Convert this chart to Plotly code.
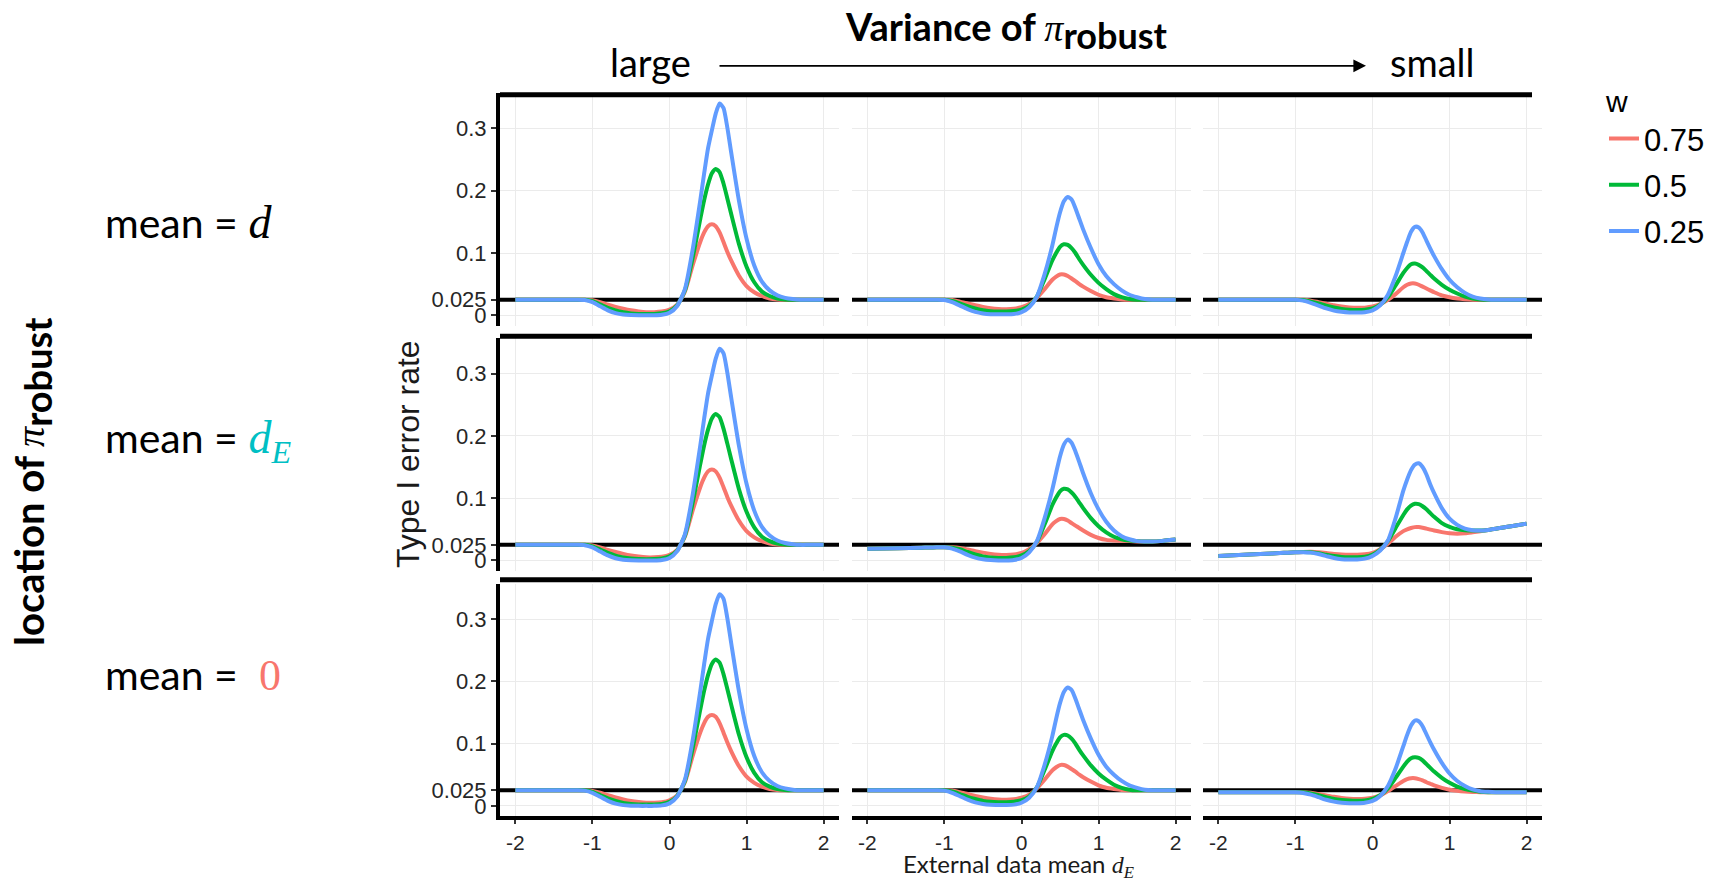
import plotly.graph_objects as go

W, H = 1714, 886

# ---------------- data ----------------
X = [-2.0, -1.6, -1.3, -1.2, -1.1, -1.0, -0.9, -0.8, -0.7, -0.6, -0.5, -0.4, -0.3, -0.2, -0.1,
     0.0, 0.1, 0.2, 0.3, 0.4, 0.45, 0.5, 0.55, 0.6, 0.65, 0.7, 0.75, 0.8,
     0.9, 1.0, 1.1, 1.2, 1.3, 1.4, 1.5, 1.6, 1.7, 1.8, 2.0]

W_LEVELS = ["0.75", "0.5", "0.25"]
COLORS = ["#F8766D", "#00BA38", "#619CFF"]
ALPHA = 0.025

# column 1 (large variance) - same in all rows
COL1_W075 = [.025, .025, .025, .025, .025, .024, .021, .017, .0135, .0105, .008, .0062, .005, .005, .006,
             .009, .017, .038, .08, .118, .133, .143, .146, .143, .133, .118, .102, .088,
             .064, .047, .037, .031, .027, .0255, .025, .025, .025, .025, .025]
COL1_W050 = [.025, .025, .025, .025, .025, .0225, .0175, .012, .0078, .0048, .003, .0022, .002, .0022, .0032,
             .0065, .016, .04, .092, .155, .185, .21, .228, .235, .23, .212, .188, .163,
             .115, .078, .053, .038, .031, .027, .0255, .025, .025, .025, .025]
COL1_W025 = [.025, .025, .025, .025, .0245, .021, .0145, .008, .0035, .0012, .0003, 0, 0, 0, .0008,
             .004, .015, .042, .105, .185, .228, .268, .297, .324, .34, .333, .302, .262,
             .185, .123, .08, .054, .04, .032, .028, .026, .025, .025, .025]

# column 2 (rows 1 and 3)
C2_W075 = [.025, .025, .025, .025, .025, .025, .0245, .022, .019, .016, .0135, .0115, .0102, .0098, .0105,
           .013, .018, .028, .042, .057, .062, .0655, .0655, .063, .059, .055, .05, .046,
           .039, .033, .029, .027, .0255, .025, .025, .025, .025, .025, .025]
C2_W050 = [.025, .025, .025, .025, .025, .025, .023, .019, .0145, .011, .008, .0065, .006, .006, .0068,
           .009, .015, .03, .058, .088, .1, .11, .114, .113, .108, .1, .09, .081,
           .065, .052, .042, .034, .029, .026, .025, .025, .025, .025, .025]
C2_W025 = [.025, .025, .025, .025, .025, .0245, .021, .0155, .01, .0055, .003, .0018, .0015, .0015, .002,
           .005, .013, .03, .066, .112, .14, .165, .183, .19, .186, .172, .155, .138,
           .108, .082, .063, .05, .04, .033, .029, .026, .025, .025, .025]

# row 2, column 2
R2C2_W075 = [.0187, .0197, .0205, .0208, .021, .021, .021, .02, .0175, .0148, .0125, .0105, .0092, .0088, .0095,
             .012, .018, .028, .042, .058, .063, .0665, .0665, .064, .06, .056, .052, .048,
             .041, .036, .033, .032, .0315, .031, .0305, .0303, .0303, .031, .0335]
R2C2_W050 = [.0187, .0197, .0205, .0208, .021, .021, .0205, .018, .0135, .0095, .0065, .0048, .004, .004, .005,
             .008, .015, .03, .058, .089, .101, .111, .115, .114, .109, .102, .093, .084,
             .068, .055, .045, .038, .034, .032, .031, .0305, .0305, .031, .0335]
R2C2_W025 = [.0187, .0197, .0205, .0208, .021, .021, .019, .0145, .009, .0045, .0018, .0005, 0, 0, .0008,
             .004, .013, .031, .068, .114, .141, .167, .186, .194, .189, .175, .158, .14,
             .108, .082, .062, .048, .039, .034, .031, .0305, .0305, .031, .0335]

# row 1, column 3
R1C3_W075 = [.025, .025, .025, .025, .025, .025, .025, .0235, .021, .0185, .016, .014, .0127, .012, .0123,
             .014, .018, .025, .034, .045, .049, .051, .051, .049, .046, .043, .04, .037,
             .032, .029, .027, .0258, .025, .025, .025, .025, .025, .025, .025]
R1C3_W050 = [.025, .025, .025, .025, .025, .025, .0245, .022, .019, .0155, .0125, .0103, .009, .0086, .009,
             .011, .017, .029, .048, .068, .076, .082, .083, .081, .077, .071, .065, .059,
             .049, .041, .035, .03, .027, .0255, .025, .025, .025, .025, .025]
R1C3_W025 = [.025, .025, .025, .025, .025, .025, .0235, .02, .0155, .011, .0075, .0055, .0045, .0043, .005,
             .008, .016, .033, .063, .1, .118, .134, .142, .141, .133, .12, .107, .095,
             .074, .057, .045, .036, .03, .027, .0255, .025, .025, .025, .025]

# row 2, column 3
R2C3_W075 = [.007, .0095, .0113, .0119, .0125, .013, .0136, .0138, .0132, .012, .0105, .0095, .009, .009, .0098,
             .012, .018, .027, .038, .047, .05, .052, .0535, .0535, .0525, .051, .0495, .048,
             .0455, .0435, .0428, .0435, .0452, .047, .049, .051, .053, .055, .059]
R2C3_W050 = [.007, .0095, .0113, .0119, .0125, .013, .0135, .013, .0115, .009, .007, .0055, .005, .005, .006,
             .0095, .017, .031, .052, .073, .082, .088, .091, .0905, .087, .082, .076, .07,
             .06, .054, .05, .0485, .048, .048, .049, .051, .053, .055, .059]
R2C3_W025 = [.007, .0095, .0113, .0119, .0125, .013, .0133, .0125, .0102, .007, .0038, .002, .0015, .0015, .0028,
             .0072, .016, .032, .068, .112, .13, .145, .154, .156, .15, .138, .122, .108,
             .084, .067, .057, .051, .0485, .048, .049, .051, .053, .055, .059]

# row 3, column 3
R3C3_W075 = [.022, .022, .022, .022, .022, .022, .022, .021, .019, .0168, .0145, .0128, .0115, .011, .0113,
             .013, .017, .024, .032, .04, .043, .0444, .0444, .043, .041, .038, .0355, .033,
             .029, .026, .0242, .023, .0223, .022, .022, .022, .022, .022, .022]
R3C3_W050 = [.022, .022, .022, .022, .022, .022, .0218, .02, .017, .014, .0112, .0095, .0085, .0082, .0088,
             .011, .017, .028, .045, .063, .071, .0765, .078, .077, .073, .067, .061, .055,
             .045, .037, .031, .027, .0245, .0228, .022, .022, .022, .022, .022]
R3C3_W025 = [.022, .022, .022, .022, .022, .022, .0208, .018, .014, .0098, .0068, .005, .0043, .0043, .005,
             .008, .016, .032, .06, .096, .114, .129, .137, .136, .128, .115, .102, .09,
             .069, .052, .04, .032, .0265, .0235, .0225, .022, .022, .022, .022]

PANELS = [
    [(COL1_W075, COL1_W050, COL1_W025), (C2_W075, C2_W050, C2_W025), (R1C3_W075, R1C3_W050, R1C3_W025)],
    [(COL1_W075, COL1_W050, COL1_W025), (R2C2_W075, R2C2_W050, R2C2_W025), (R2C3_W075, R2C3_W050, R2C3_W025)],
    [(COL1_W075, COL1_W050, COL1_W025), (C2_W075, C2_W050, C2_W025), (R3C3_W075, R3C3_W050, R3C3_W025)],
]

X_TICKS = [-2, -1, 0, 1, 2]
X_TICKTEXT = ["-2", "-1", "0", "1", "2"]
Y_TICKS = [0, 0.025, 0.1, 0.2, 0.3]
Y_TICKTEXT = ["0", "0.025", "0.1", "0.2", "0.3"]
XRANGE = [-2.2, 2.2]
YRANGE = [-0.017, 0.357]

# ---------------- layout geometry (pixels) ----------------
COL_LEFT = [500, 852, 1203]
COL_W = 339
ROW_TOP = [93.2, 338.9, 584.9]
ROW_H = 233.4

ARIAL = "Liberation Sans, Arial, sans-serif"
TICK_FONT = dict(family=ARIAL, size=22, color="#262626")
XTICK_FONT = dict(family=ARIAL, size=21, color="#262626")
GRID = "#EBEBEB"

fig = go.Figure()
layout = {}

for r in range(3):
    for c in range(3):
        k = r * 3 + c + 1
        xa = "x" if k == 1 else f"x{k}"
        ya = "y" if k == 1 else f"y{k}"
        xd = [COL_LEFT[c] / W, (COL_LEFT[c] + COL_W) / W]
        yd = [1 - (ROW_TOP[r] + ROW_H) / H, 1 - ROW_TOP[r] / H]
        bottom = (r == 2)
        layout["xaxis" if k == 1 else f"xaxis{k}"] = dict(
            domain=xd, anchor=ya, range=XRANGE, tickvals=X_TICKS, ticktext=X_TICKTEXT,
            showticklabels=bottom, ticks="outside" if bottom else "", ticklen=4, tickwidth=2,
            tickcolor="#333333", tickfont=XTICK_FONT,
            showgrid=True, gridcolor=GRID, gridwidth=1, zeroline=False,
            showline=bottom, linecolor="black", linewidth=4, fixedrange=True,
        )
        left = (c == 0)
        layout["yaxis" if k == 1 else f"yaxis{k}"] = dict(
            domain=yd, anchor=xa, range=YRANGE, tickvals=Y_TICKS, ticktext=Y_TICKTEXT,
            showticklabels=left, ticks="outside" if left else "", ticklen=5, tickwidth=2,
            tickcolor="#333333", tickfont=TICK_FONT,
            showgrid=True, gridcolor=GRID, gridwidth=1, zeroline=False,
            showline=left, linecolor="black", linewidth=4, fixedrange=True,
        )
        # reference line at the nominal level
        fig.add_trace(go.Scatter(x=XRANGE, y=[ALPHA, ALPHA], mode="lines",
                                 line=dict(color="black", width=4), hoverinfo="skip",
                                 showlegend=False, xaxis=xa, yaxis=ya))
        for i, ys in enumerate(PANELS[r][c]):
            fig.add_trace(go.Scatter(
                x=X, y=ys, mode="lines", name=W_LEVELS[i],
                line=dict(color=COLORS[i], width=4, shape="spline", smoothing=0.6),
                legendgroup=W_LEVELS[i], showlegend=(k == 1),
                xaxis=xa, yaxis=ya))

# ---------------- annotations ----------------
def P(xp, yp):
    return xp / W, 1 - yp / H

annots = []

def ann(text, xp, yp, size, family, color="black", xanchor="center", yanchor="middle", angle=0):
    x, y = P(xp, yp)
    annots.append(dict(text=text, x=x, y=y, xref="paper", yref="paper", showarrow=False,
                       xanchor=xanchor, yanchor=yanchor, textangle=angle,
                       font=dict(size=size, family=family, color=color)))

SANS = "Lato, Carlito, sans-serif"
PI = "<span style=\"font-family:'Liberation Serif'\"><i>π</i></span>"

def math(txt, color="black", size=46):
    return (f"<span style=\"font-family:'Liberation Serif';color:{color};font-size:{size}px\">"
            f"{txt}</span>")

ann("<b>Variance of </b>" + PI + "<sub><span style=\"font-size:36px\"><b>robust</b></span></sub>",
    1006, 30, 38, SANS)
ann("large", 608, 62, 38, SANS, xanchor="left")
ann("small", 1388, 62, 38, SANS, xanchor="left")

ann("mean = " + math("<i>d</i>"), 103, 223, 41, SANS, xanchor="left")
ann("mean = " + math("<i>d</i><sub><i>E</i></sub>", "#00BFC4"), 103, 442, 41, SANS, xanchor="left")
ann("mean =  " + math("0", "#F8766D", 44), 103, 677, 41, SANS, xanchor="left")

ann("<b>location of </b>" + PI + "<sub><span style=\"font-size:38px\"><b>robust</b></span></sub>",
    33, 483, 40, SANS, angle=-90)

ann("Type I error rate", 408, 455, 32, ARIAL, color="#1a1a1a", angle=-90)
ann("External data mean <span style=\"font-family:'Liberation Serif'\"><i>d</i><sub><i>E</i></sub></span>",
    1018, 886, 24, SANS, color="#1a1a1a", yanchor="bottom")

# arrow large -> small
ax_, ay_ = P(1366, 66)
annots.append(dict(text="", x=ax_, y=ay_, xref="paper", yref="paper", showarrow=True,
                   ax=718 - 1366, ay=0, arrowhead=2, arrowsize=1.4, arrowwidth=1.8,
                   arrowcolor="black", standoff=0, font=dict(size=12)))

# heavy strip lines on top of each row
shapes = []
for yp in [95, 337, 581]:
    shapes.append(dict(type="line", xref="paper", yref="paper",
                       x0=500 / W, x1=1532 / W, y0=1 - yp / H, y1=1 - yp / H,
                       line=dict(color="black", width=5)))

layout.update(
    width=W, height=H, margin=dict(l=0, r=0, t=0, b=0),
    paper_bgcolor="white", plot_bgcolor="white",
    font=dict(family=ARIAL, size=16, color="black"),
    annotations=annots, shapes=shapes,
    legend=dict(x=1604 / W, y=1 - 73 / H, xanchor="left", yanchor="top",
                font=dict(size=31, family=ARIAL, color="black"),
                title=dict(text="w", font=dict(size=30, family=ARIAL)),
                itemwidth=30, tracegroupgap=3, bgcolor="rgba(0,0,0,0)"),
)
fig.update_layout(**layout)
fig.write_html("out.html")
